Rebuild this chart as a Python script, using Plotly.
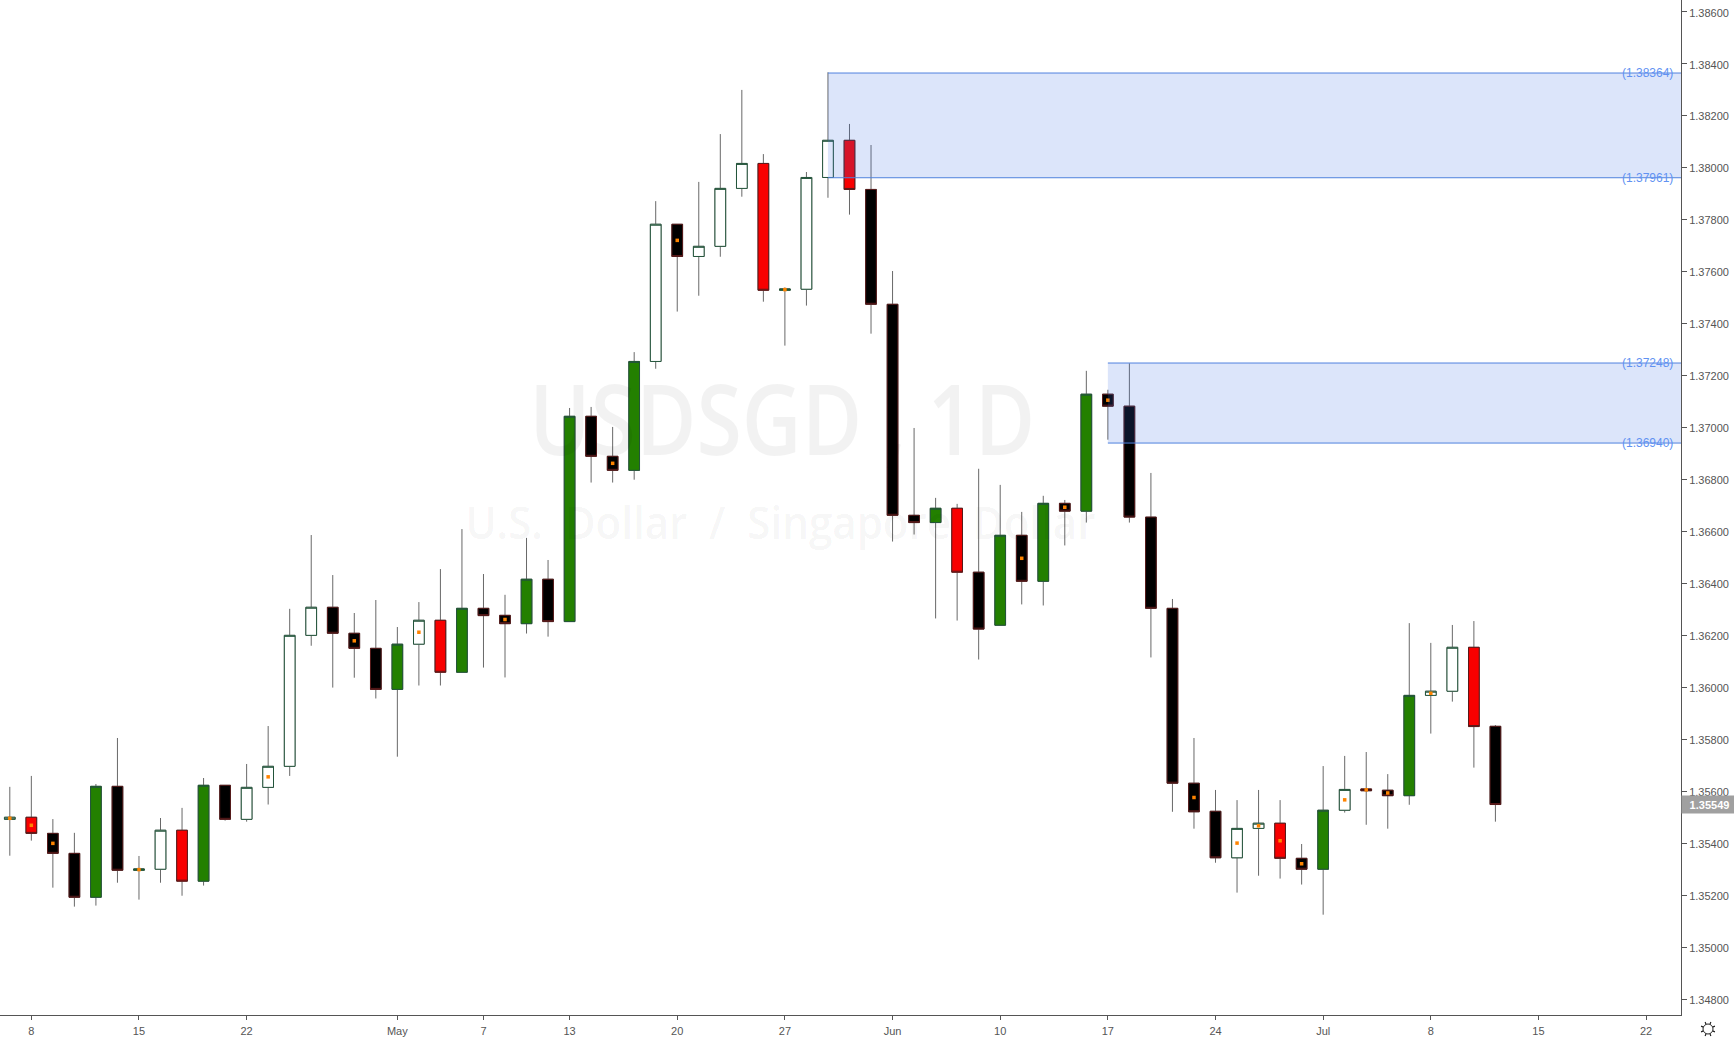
import math
import plotly.graph_objects as go

# ---------- data ----------
open_ = [1.35492,1.35500,1.35438,1.35361,1.35192,1.35619,1.35296,1.35300,1.35450,1.35254,
         1.35623,1.35492,1.35615,1.35696,1.36200,1.36308,1.36208,1.36150,1.35992,1.36166,
         1.36258,1.36058,1.36304,1.36277,1.36245,1.36416,1.36253,1.37043,1.36889,1.36835,
         1.37254,1.37782,1.37658,1.37697,1.37920,1.38016,1.37528,1.37532,1.37962,1.38105,
         1.37916,1.37474,1.36662,1.36634,1.36689,1.36443,1.36239,1.36585,1.36408,1.36708,
         1.36678,1.37128,1.37082,1.36655,1.36304,1.35631,1.35523,1.35344,1.35457,1.35477,
         1.35342,1.35300,1.35527,1.35609,1.35604,1.35583,1.35969,1.35985,1.36154,1.35850]
close = [1.35500,1.35438,1.35361,1.35192,1.35619,1.35296,1.35301,1.35450,1.35254,1.35623,
         1.35492,1.35615,1.35696,1.36200,1.36308,1.36208,1.36150,1.35992,1.36166,1.36258,
         1.36058,1.36304,1.36276,1.36245,1.36416,1.36253,1.37043,1.36889,1.36835,1.37254,
         1.37782,1.37658,1.37697,1.37920,1.38016,1.37528,1.37533,1.37962,1.38105,1.37916,
         1.37474,1.36662,1.36634,1.36689,1.36443,1.36224,1.36585,1.36408,1.36708,1.36678,
         1.37128,1.37082,1.36655,1.36304,1.35631,1.35521,1.35344,1.35457,1.35477,1.35342,
         1.35300,1.35527,1.35607,1.35602,1.35583,1.35969,1.35985,1.36154,1.35849,1.35549]
high  = [1.35617,1.35659,1.35493,1.35440,1.35628,1.35805,1.35351,1.35497,1.35536,1.35651,
         1.35623,1.35705,1.35851,1.36302,1.36586,1.36432,1.36286,1.36336,1.36232,1.36328,
         1.36455,1.36609,1.36436,1.36356,1.36575,1.36490,1.37075,1.37079,1.37002,1.37290,
         1.37871,1.37782,1.37945,1.38129,1.38299,1.38052,1.37539,1.37983,1.38367,1.38168,
         1.38087,1.37602,1.36998,1.36729,1.36706,1.36841,1.36779,1.36675,1.36737,1.36721,
         1.37218,1.37145,1.37247,1.36825,1.36340,1.35805,1.35605,1.35566,1.35605,1.35566,
         1.35397,1.35697,1.35736,1.35751,1.35666,1.36247,1.36171,1.36240,1.36255,1.35855]
low   = [1.35352,1.35410,1.35229,1.35156,1.35160,1.35248,1.35183,1.35248,1.35198,1.35237,
         1.35487,1.35483,1.35549,1.35659,1.36160,1.35999,1.36037,1.35957,1.35733,1.36007,
         1.36007,1.36058,1.36076,1.36038,1.36207,1.36195,1.36253,1.36788,1.36788,1.36799,
         1.37226,1.37446,1.37507,1.37657,1.37888,1.37484,1.37315,1.37469,1.37884,1.37819,
         1.37361,1.36561,1.36588,1.36265,1.36257,1.36107,1.36239,1.36319,1.36315,1.36546,
         1.36634,1.36953,1.36634,1.36115,1.35521,1.35456,1.35325,1.35210,1.35275,1.35264,
         1.35241,1.35125,1.35518,1.35471,1.35456,1.35548,1.35822,1.35945,1.35691,1.35483]
# candle class: W white, G green, K black, R red
kind = list("WRKKGKGWRGKWWWWKKKGWRGKKGKGKKGWKWWWRGWWRKKKGRKGKGKGKKKKKKWWRKGWKKGWWRK")
# bars carrying the small orange marker
marked = [0,1,2,6,12,16,19,23,28,31,36,47,49,51,55,57,58,59,60,62,63,64,66]

tick_index  = [1,6,11,18,22,26,31,36,41,46,51,56,61,66,71,76]
tick_labels = ["8","15","22","May","7","13","20","27","Jun","10","17","24","Jul","8","15","22"]

zone_start = [38, 51]
zone_top = [1.38364, 1.37248]
zone_bottom = [1.37961, 1.36940]
last_price = 1.35549

title_text = "USDSGD , 1D"
subtitle_text = "U.S.\u00a0 Dollar\u00a0 /\u00a0 Singapore\u00a0 Dollar"

# ---------- styling ----------
W, H = 1734, 1039
PLOT_W, PLOT_H = 1681, 1015
X0 = -0.455
X1 = 77.62
Y_RANGE = [1.34739, 1.38645]
FILL = {"W": "#ffffff", "G": "#238000", "K": "#000000", "R": "#f80000"}
BORDER = {"W": "#22543a", "G": "#22543a", "K": "#581a1a", "R": "#581a1a"}
WICK = "#686868"
ZONE_FILL = "rgba(60,110,230,0.18)"
ZONE_LINE = "#4f82de"
LABEL = "#6192f2"
AXIS = "#555555"
TEXT = "#555555"
FONT = "Liberation Sans, Arial, sans-serif"
MARK = "Open Sans"

x = list(range(len(open_)))
fig = go.Figure()

# full candles: supplies the wicks
fig.add_trace(go.Candlestick(
    x=x, open=open_, high=high, low=low, close=close, whiskerwidth=0,
    increasing=dict(line=dict(color=WICK, width=1), fillcolor=WICK),
    decreasing=dict(line=dict(color=WICK, width=1), fillcolor=WICK),
    hoverinfo="skip", showlegend=False))

# bodies, one trace per class
for k in "WGKR":
    idx = [i for i in x if kind[i] == k]
    o = [open_[i] for i in idx]
    c = [close[i] for i in idx]
    hi = [max(a, b) for a, b in zip(o, c)]
    lo = [min(a, b) for a, b in zip(o, c)]
    side = dict(line=dict(color=BORDER[k], width=1), fillcolor=FILL[k])
    fig.add_trace(go.Candlestick(
        x=idx, open=o, high=hi, low=lo, close=c, whiskerwidth=0,
        increasing=side, decreasing=side, hoverinfo="skip", showlegend=False))

# orange markers at the middle of the body
fig.add_trace(go.Scatter(
    x=marked, y=[(open_[i] + close[i]) / 2 for i in marked], mode="markers",
    marker=dict(symbol="square", size=3.5, color="#ff8400", line=dict(width=0)),
    hoverinfo="skip", showlegend=False))

shapes = []
annotations = []
for s, t, b in zip(zone_start, zone_top, zone_bottom):
    shapes.append(dict(type="rect", xref="x", yref="y", x0=s, x1=X1, y0=b, y1=t,
                       fillcolor=ZONE_FILL, line=dict(width=0), layer="above"))
    for v in (t, b):
        shapes.append(dict(type="line", xref="x", yref="y", x0=s, x1=X1, y0=v, y1=v,
                           line=dict(color=ZONE_LINE, width=1), layer="above"))
        annotations.append(dict(xref="paper", yref="y", x=1674.5 / PLOT_W, y=v,
                                xanchor="right", yanchor="middle", showarrow=False,
                                text=f"({v:.5f})",
                                font=dict(family=FONT, size=12, color=LABEL)))

# watermark
annotations.append(dict(xref="paper", yref="paper", x=782 / PLOT_W, y=1 - 417 / PLOT_H,
                        xanchor="center", yanchor="middle", showarrow=False, text=title_text,
                        font=dict(family=MARK, size=97, weight=600, color="rgba(0,0,0,0.05)")))
annotations.append(dict(xref="paper", yref="paper", x=780 / PLOT_W, y=1 - 521 / PLOT_H,
                        xanchor="center", yanchor="middle", showarrow=False, text=subtitle_text,
                        font=dict(family=MARK, size=46, weight=600, color="rgba(0,0,0,0.05)")))

# last-price tag
annotations.append(dict(xref="paper", yref="y", x=1.0, y=last_price, xanchor="left",
                        yanchor="middle", showarrow=False, text=f"<b>{last_price:.5f}</b>",
                        width=53, height=15, align="center", bgcolor="#a0a0a0", borderpad=1,
                        font=dict(family=FONT, size=11, color="#ffffff")))

# settings icon drawn in the bottom-right corner
def px(a):
    return a / PLOT_W
def py(b):
    return 1 - b / PLOT_H
ICON_X, ICON_Y = 1708, 1029
spikes = ""
for n in range(8):
    ang = math.radians(45 * n + 22.5)
    spikes += (f"M{px(ICON_X + 5 * math.cos(ang)):.5f},{py(ICON_Y + 5 * math.sin(ang)):.5f}"
               f"L{px(ICON_X + 7.5 * math.cos(ang)):.5f},{py(ICON_Y + 7.5 * math.sin(ang)):.5f}")
shapes.append(dict(type="path", xref="paper", yref="paper", path=spikes,
                   line=dict(color="#222222", width=1.2), layer="above"))
shapes.append(dict(type="circle", xref="paper", yref="paper",
                   x0=px(ICON_X - 5), x1=px(ICON_X + 5), y0=py(ICON_Y + 5), y1=py(ICON_Y - 5),
                   fillcolor="#ffffff", line=dict(color="#222222", width=1), layer="above"))

fig.update_layout(
    width=W, height=H,
    margin=dict(l=0, r=W - PLOT_W, t=0, b=H - PLOT_H, pad=0),
    paper_bgcolor="#ffffff", plot_bgcolor="#ffffff",
    showlegend=False, hovermode=False, boxmode="overlay", boxgap=0.29,
    shapes=shapes, annotations=annotations,
    font=dict(family=FONT, size=11, color=TEXT),
    xaxis=dict(range=[X0, X1], rangeslider=dict(visible=False), showgrid=False, zeroline=False,
               tickmode="array", tickvals=tick_index, ticktext=tick_labels,
               ticks="outside", ticklen=4, tickwidth=1, tickcolor=AXIS,
               showline=True, linecolor=AXIS, linewidth=1, ticklabelstandoff=2,
               tickfont=dict(family=FONT, size=11, color=TEXT)),
    yaxis=dict(range=Y_RANGE, side="right", showgrid=False, zeroline=False,
               dtick=0.002, tick0=1.348, tickformat=".5f",
               ticks="outside", ticklen=5, tickwidth=1, tickcolor=AXIS,
               showline=True, linecolor=AXIS, linewidth=1, ticklabelshift=1,
               tickfont=dict(family=FONT, size=11, color=TEXT)),
)

# squeeze the two watermark lines horizontally to the widths seen in the reference
squeeze = """
document.body.style.margin='0';document.body.style.overflow='hidden';
document.querySelectorAll('.annotation-text').forEach(function(t){
  var s=t.textContent;
  if(s.indexOf('USDSGD')===0){t.setAttribute('textLength','506');t.setAttribute('lengthAdjust','spacingAndGlyphs');}
  if(s.indexOf('U.S.')===0){t.setAttribute('textLength','630');t.setAttribute('lengthAdjust','spacingAndGlyphs');}
});
"""
fig.write_html("out.html", config=dict(displayModeBar=False), post_script=squeeze)
